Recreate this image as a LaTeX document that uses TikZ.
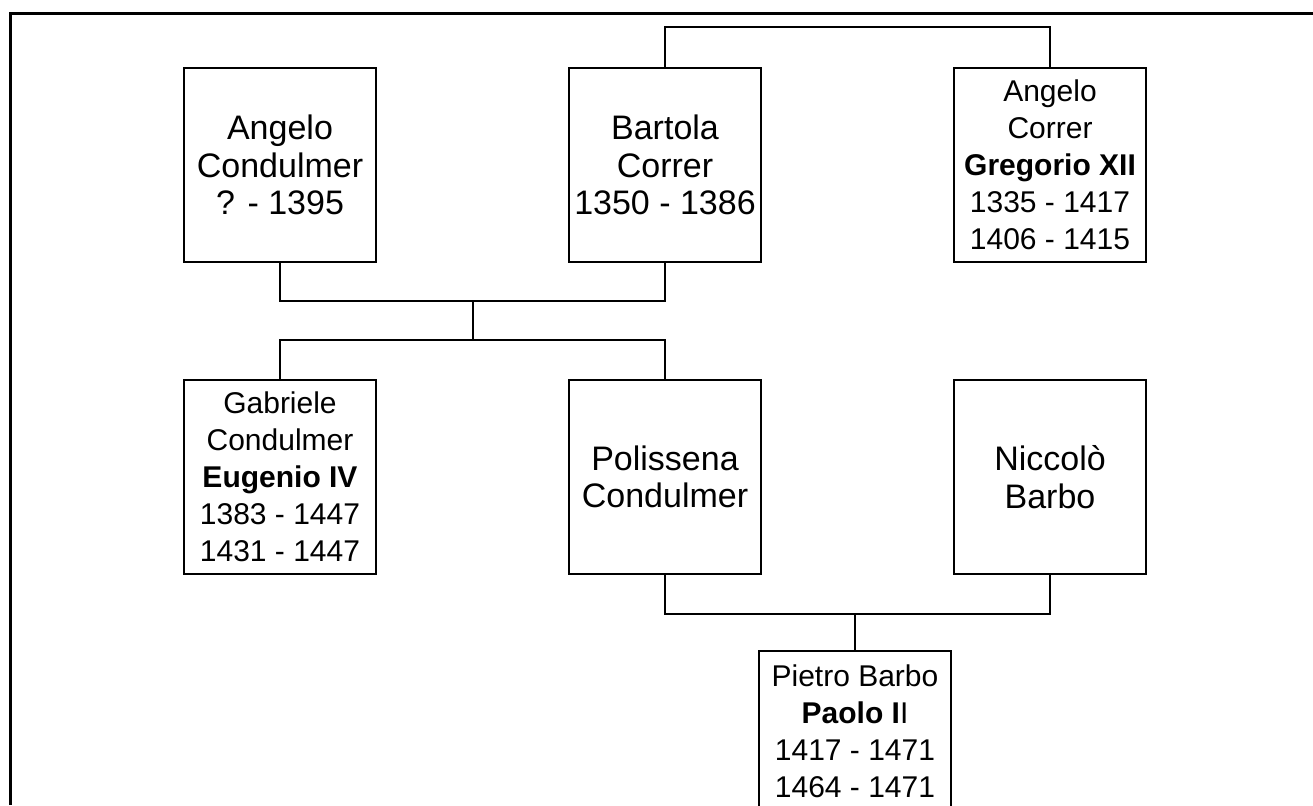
\documentclass[tikz,border=0pt]{standalone}
\usepackage{fontspec}
\setmainfont{Liberation Sans}
\usetikzlibrary{positioning,calc}
\tikzset{
  person/.style = {shape=rectangle, draw, line width=2pt,
                   align=center, inner sep=0pt,
                   minimum width=192pt, minimum height=194pt,
                   font=\fontsize{34}{37.5}\selectfont},
  pope/.style   = {person, font=\fontsize{30}{37}\selectfont},
  link/.style   = {draw, line width=2pt, line join=miter},
  frame/.style  = {draw, line width=3pt},
}

\begin{document}
\begin{tikzpicture}[
        x = 1pt, y = 1pt,
        node distance = 116pt and 191pt
    ]
    \useasboundingbox (0,0) rectangle (1313,805);
    \clip (0,0) rectangle (1313,805);
    \draw [frame] (10,0) -- (10,791) -- (1313,791);

    % first generation
    \node [person] (ac) at (280,640) {Angelo\\Condulmer\\? - 1395};
    \node [person, right=of ac] (bc) {Bartola\\Correr\\1350 - 1386};
    \node [pope, right=of bc] (gr) {Angelo\\Correr\\\textbf{Gregorio XII}\\1335 - 1417\\1406 - 1415};

    % second generation
    \node [pope, below=of ac] (gc) {Gabriele\\Condulmer\\\textbf{Eugenio IV}\\1383 - 1447\\1431 - 1447};
    \node [person, below=of bc] (pc) {Polissena\\Condulmer};
    \node [person, below=of gr] (nb) {Niccolò\\Barbo};

    % third generation
    \node [pope, minimum height=160pt] (pb) at (855,74) {Pietro Barbo\\\textbf{Paolo I}I\\1417 - 1471\\1464 - 1471};

    % siblings
    \draw [link] (bc.north) -- ++(0,40) -| (gr.north);

    % Angelo + Bartola
    \draw [link] (ac.south) -- ++(0,-38) coordinate (acd) -| (bc.south);
    \coordinate (m1) at ($(acd)!0.5!(acd -| bc.south)$);
    \draw [link] (m1) -- ++(0,-39) coordinate (k1);
    \draw [link] (gc.north) |- (k1) -| (pc.north);

    % Polissena + Niccolò
    \draw [link] (pc.south) -- ++(0,-39) coordinate (pcd) -| (nb.south);
    \draw [link] (pb.north) -- (pb.north |- pcd);
\end{tikzpicture}
\end{document}
